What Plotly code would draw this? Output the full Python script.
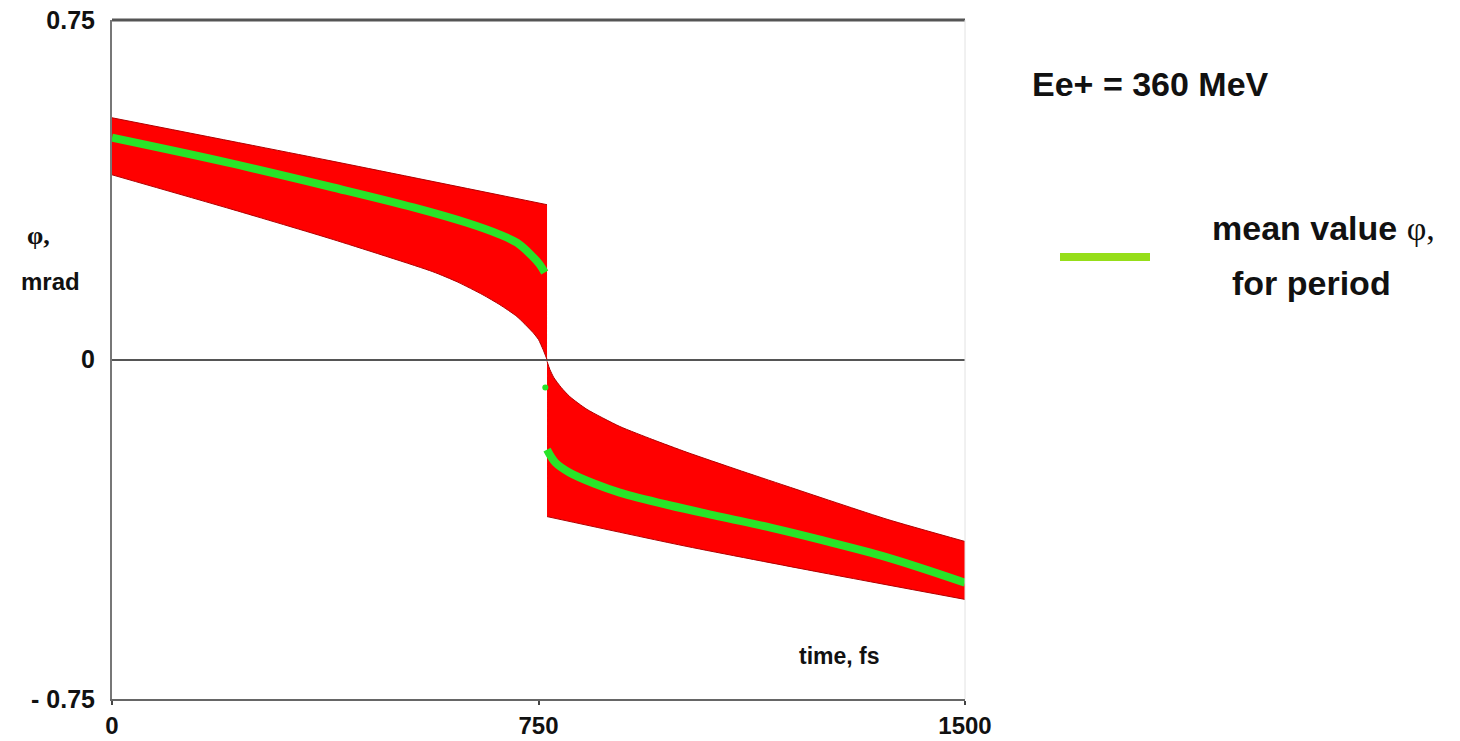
import plotly.graph_objects as go

# ---- data (time in fs, angle phi in mrad) ----
upper_hi_t = [0, 380, 765]
upper_hi_v = [0.534, 0.440, 0.342]
upper_lo_t = [0, 213, 389, 564, 608, 652, 682, 712, 740, 750, 758, 765]
upper_lo_v = [0.408, 0.331, 0.265, 0.194, 0.171, 0.143, 0.121, 0.095, 0.060, 0.044, 0.022, 0.0]

lower_hi_t = [765, 770, 777, 790, 805, 835, 893, 951, 1011, 1099, 1187, 1363, 1500]
lower_hi_v = [-0.004, -0.022, -0.040, -0.062, -0.082, -0.110, -0.148, -0.177, -0.205, -0.243, -0.280, -0.353, -0.402]
lower_lo_t = [765, 1011, 1245, 1500]
lower_lo_v = [-0.347, -0.413, -0.470, -0.530]

mean_up_t = [0, 200, 389, 530, 624, 680, 712, 740, 752, 761]
mean_up_v = [0.490, 0.436, 0.380, 0.336, 0.302, 0.277, 0.258, 0.227, 0.210, 0.192]
mean_lo_t = [765, 780, 805, 850, 893, 980, 1069, 1160, 1245, 1363, 1500]
mean_lo_v = [-0.199, -0.228, -0.250, -0.275, -0.294, -0.322, -0.347, -0.372, -0.398, -0.437, -0.493]

dot_t = [762]
dot_v = [-0.062]

x_ticks = [0, 750, 1500]
x_ticktext = ["0", "750", "1500"]
y_ticks = [-0.75, 0, 0.75]
y_ticktext = ["- 0.75", "0", "0.75"]

RED = "#ff0000"
EDGE = "#b00000"
GREEN = "rgb(40,228,40)"
LIME = "rgb(150,222,25)"
FONT = "Liberation Sans, Arial, sans-serif"


def band(lo_t, lo_v, hi_t, hi_v):
    lo = go.Scatter(x=lo_t, y=lo_v, mode="lines",
                    line=dict(color=EDGE, width=1, shape="spline", smoothing=0.6),
                    showlegend=False, hoverinfo="skip")
    hi = go.Scatter(x=hi_t, y=hi_v, mode="lines", fill="tonexty", fillcolor=RED,
                    line=dict(color=EDGE, width=1, shape="spline", smoothing=0.6),
                    showlegend=False, hoverinfo="skip")
    return [lo, hi]


fig = go.Figure()
for tr in band(upper_lo_t, upper_lo_v, upper_hi_t, upper_hi_v):
    fig.add_trace(tr)
for tr in band(lower_lo_t, lower_lo_v, lower_hi_t, lower_hi_v):
    fig.add_trace(tr)

# mean values
fig.add_trace(go.Scatter(x=mean_up_t, y=mean_up_v, mode="lines",
                         line=dict(color=GREEN, width=8, shape="spline"),
                         showlegend=False))
fig.add_trace(go.Scatter(x=mean_lo_t, y=mean_lo_v, mode="lines",
                         line=dict(color=GREEN, width=8, shape="spline"),
                         showlegend=False))
fig.add_trace(go.Scatter(x=dot_t, y=dot_v, mode="markers",
                         marker=dict(color=GREEN, size=6), showlegend=False))

fig.update_layout(
    width=1460, height=741,
    margin=dict(l=112, r=495, t=20, b=42, autoexpand=False),
    paper_bgcolor="white", plot_bgcolor="white",
    font=dict(family=FONT, color="#111"),
    xaxis=dict(range=[0, 1500], tickvals=x_ticks,
               ticktext=["<b>%s</b>" % t for t in x_ticktext],
               showgrid=False, zeroline=False, showline=True, automargin=False,
               linecolor="#666", linewidth=2, ticks="outside", ticklen=4,
               tickcolor="#444", tickwidth=2,
               tickfont=dict(family=FONT, size=24, color="#111"),
               ticklabelstandoff=0),
    yaxis=dict(range=[-0.75, 0.75], tickvals=y_ticks,
               ticktext=["<b>%s</b>" % t for t in y_ticktext],
               showgrid=False, zeroline=True, zerolinecolor="#555",
               zerolinewidth=1.5, showline=True, linecolor="#777",
               linewidth=2, ticks="", automargin=False,
               tickfont=dict(family=FONT, size=25, color="#111"),
               ticklabelstandoff=10),
    shapes=[
        dict(type="line", xref="paper", yref="paper", x0=0, x1=1, y0=1, y1=1,
             line=dict(color="#555", width=3)),
        dict(type="line", xref="paper", yref="paper", x0=1, x1=1, y0=0, y1=1,
             line=dict(color="#e2e2e2", width=1)),
        dict(type="line", xref="paper", yref="paper",
             x0=(1060 - 112) / 853, x1=(1150 - 112) / 853,
             y0=(699 - 257) / 679, y1=(699 - 257) / 679,
             line=dict(color=LIME, width=8)),
    ],
    annotations=[
        dict(text="<b>Ee+ = 360 MeV</b>", xref="paper", yref="paper",
             x=(1030 - 112) / 853, y=(699 - 84) / 679, xanchor="left",
             yanchor="middle", showarrow=False,
             font=dict(family=FONT, size=34, color="#111")),
        dict(text="<b>mean value</b> <span style='font-family:Liberation Serif, serif'>φ,</span>",
             xref="paper", yref="paper",
             x=(1210 - 112) / 853, y=(699 - 228) / 679, xanchor="left",
             yanchor="middle", showarrow=False,
             font=dict(family=FONT, size=34, color="#111")),
        dict(text="<b>for period</b>", xref="paper", yref="paper",
             x=(1230 - 112) / 853, y=(699 - 283) / 679, xanchor="left",
             yanchor="middle", showarrow=False,
             font=dict(family=FONT, size=34, color="#111")),
        dict(text="<b>time, fs</b>", xref="paper", yref="paper",
             x=(797 - 112) / 853, y=(699 - 656) / 679, xanchor="left",
             yanchor="middle", showarrow=False,
             font=dict(family=FONT, size=23, color="#111")),
        dict(text="<span style='font-family:Liberation Serif, serif'><b>φ,</b></span>",
             xref="paper", yref="paper",
             x=(38 - 112) / 853, y=(699 - 235) / 679, xanchor="center",
             yanchor="middle", showarrow=False,
             font=dict(size=26, color="#111")),
        dict(text="<b>mrad</b>", xref="paper", yref="paper",
             x=(50 - 112) / 853, y=(699 - 281) / 679, xanchor="center",
             yanchor="middle", showarrow=False,
             font=dict(family=FONT, size=24, color="#111")),
    ],
)

fig.write_html("out.html")
